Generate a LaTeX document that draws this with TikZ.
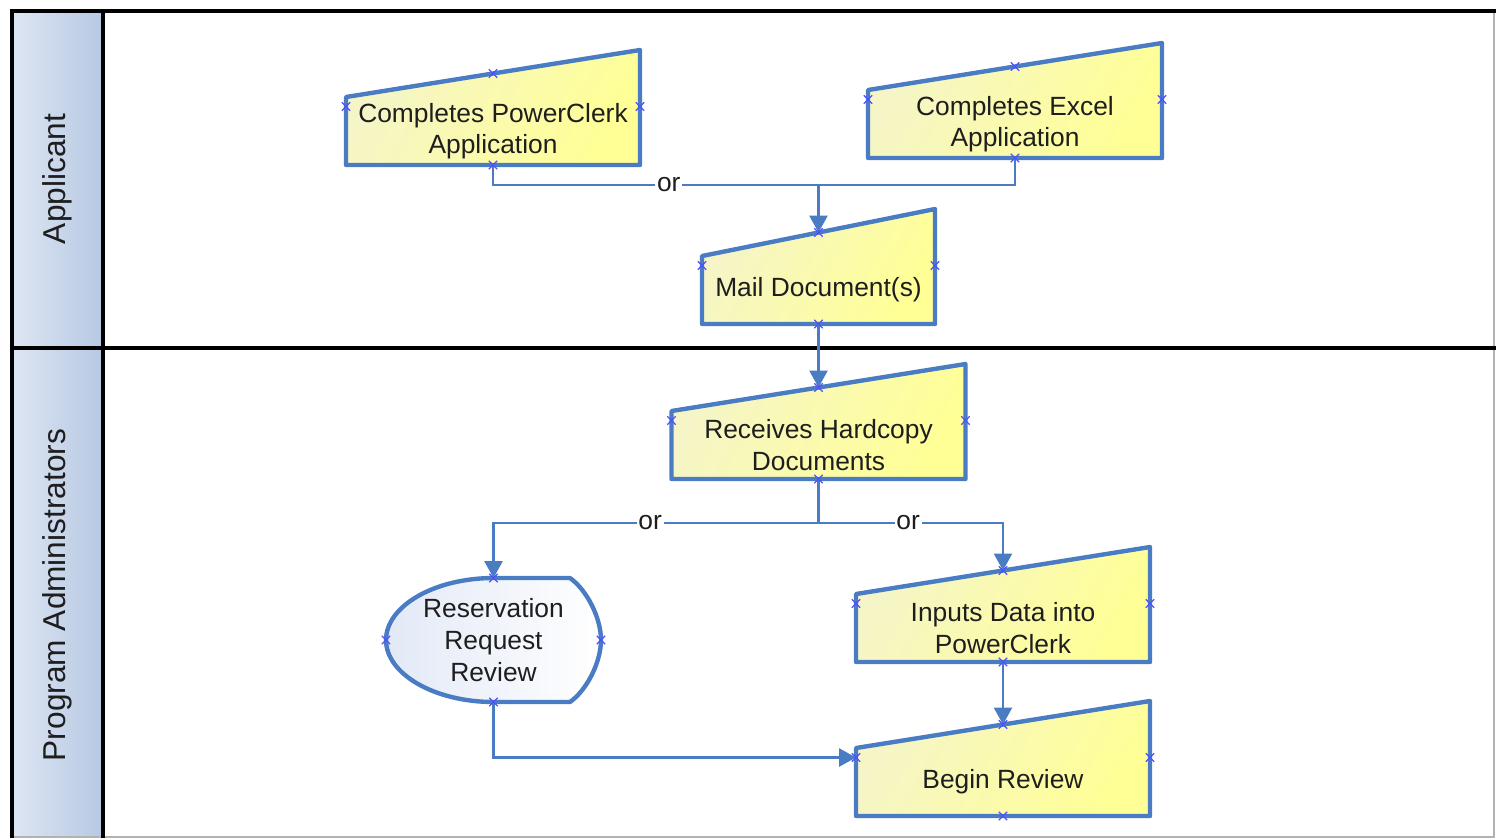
\documentclass[tikz,border=0pt]{standalone}
\usepackage{fontspec}
\setmainfont{Liberation Sans}
\usetikzlibrary{arrows.meta,calc,backgrounds}

\definecolor{shapeblue}{RGB}{74,124,196}
\definecolor{markblue}{RGB}{80,80,255}
\definecolor{lanelight}{RGB}{222,230,243}
\definecolor{lanedark}{RGB}{182,200,227}
\definecolor{paleyellow}{RGB}{245,245,200}
\definecolor{brightyellow}{RGB}{255,255,150}
\definecolor{palewhite}{RGB}{226,233,246}
\definecolor{textgray}{RGB}{30,30,30}

\tikzset{
  manual/.style={rectangle, inner sep=0pt, outer sep=0pt, minimum width=5.88cm,
    minimum height=1.36cm, align=center, text=textgray, font=\fontsize{15}{18}\selectfont},
  display/.style={manual, minimum width=4.3cm, minimum height=2.48cm},
  outline/.style={draw=shapeblue, line width=2.5pt, line join=round,
    left color=paleyellow, right color=brightyellow, shading angle=60},
  conn/.style={draw=shapeblue, line width=1.5pt},
  flow/.style={conn, -{Triangle[length=0.34cm, width=0.36cm]}},
  orlab/.style={fill=white, inner sep=1pt, text=textgray, font=\fontsize{15}{18}\selectfont},
  lane/.style={rotate=90, text=textgray, font=\fontsize{18}{22}\selectfont},
  frame/.style={line width=2.6pt},
  xmark/.pic={\draw[markblue, line width=0.7pt] (-2.4pt,-2.4pt) -- (2.4pt,2.4pt) (-2.4pt,2.4pt) -- (2.4pt,-2.4pt);}
}

\begin{document}
\begin{tikzpicture}[x=0.02cm, y=-0.02cm]
  \useasboundingbox (0,0) rectangle (1496,839);

  % Lanes
  \shade[left color=lanelight, right color=lanedark] (12,11) rectangle (103,837);
  \draw[gray!60, line width=0.8pt] (1494,11) -- (1494,837) -- (12,837);
  \draw[frame] (1496,11) -- (12,11) -- (12,838);
  \draw[frame] (103,11) -- (103,838);
  \draw[frame] (12,348) -- (1496,348);
  \node[lane] (applicant) at (57,179) {Applicant};
  \node[lane] (admins) at (57,595) {Program Administrators};

  % Define nodes
  \node[manual]                        (pc)    at (493,131)   {Completes PowerClerk\\Application};
  \node[manual]                        (xl)    at (1015,124)  {Completes Excel\\Application};
  \node[manual, minimum width=4.66cm]  (mail)  at (818.5,290) {Mail Document(s)};
  \node[manual]                        (recv)  at (818.5,445) {Receives Hardcopy\\Documents};
  \node[display]                       (resv)  at (493.5,640) {Reservation\\Request\\Review};
  \node[manual]                        (inp)   at (1003,628)  {Inputs Data into\\PowerClerk};
  \node[manual]                        (begin) at (1003,782)  {Begin Review};

  % Shapes behind the text
  \begin{scope}[on background layer]
    \foreach \n in {pc,xl,mail,recv,inp,begin} {
      \draw[outline] (\n.south west) -- (\n.north west) -- ($(\n.north east)+(0,-47)$)
        -- (\n.south east) -- cycle;
      \coordinate (\n-in) at ($(\n.north)+(0,-23.5)$);
      \coordinate (\n-w) at ($(\n.west)+(0,-24.5)$);
      \coordinate (\n-e) at ($(\n.east)+(0,-24.5)$);
    }
    \draw[outline, left color=palewhite, right color=white]
      (resv.south) .. controls ($(resv.south)+(-59,0)$) and ($(resv.west)+(0,34)$) .. (resv.west)
      .. controls ($(resv.west)+(0,-34)$) and ($(resv.north)+(-59,0)$) .. (resv.north)
      -- ($(resv.north east)+(-31,0)$)
      .. controls ($(resv.north east)+(-14,12)$) and ($(resv.east)+(0,-22)$) .. (resv.east)
      .. controls ($(resv.east)+(0,22)$) and ($(resv.south east)+(-14,-12)$) .. ($(resv.south east)+(-31,0)$)
      -- cycle;
  \end{scope}

  % Connect the nodes
  \coordinate (join) at (818.5,185);
  \coordinate (split) at (818.5,523);
  \draw[conn] (pc.south) |- node[orlab, pos=0.77] (or1) {or} (join);
  \draw[conn] (xl.south) |- (join);
  \draw[flow] (join) -- (mail-in);
  \draw[flow] (mail.south) -- (recv-in);
  \draw[conn] (recv.south) -- (split);
  \draw[flow] (split) -| node[orlab, pos=0.259] (or2) {or} (resv.north);
  \draw[flow] (split) -| node[orlab, pos=0.243] (or3) {or} (inp-in);
  \draw[flow] (inp.south) -- (begin-in);
  \draw[flow] (resv.south) |- (begin-w);

  % Connection points
  \foreach \n in {pc,xl,mail,recv,inp,begin} {
    \foreach \a in {in,w,e} \path (\n-\a) pic {xmark};
    \path (\n.south) pic {xmark};
  }
  \foreach \a in {north,south,west,east} \path (resv.\a) pic {xmark};

\end{tikzpicture}
\end{document}
